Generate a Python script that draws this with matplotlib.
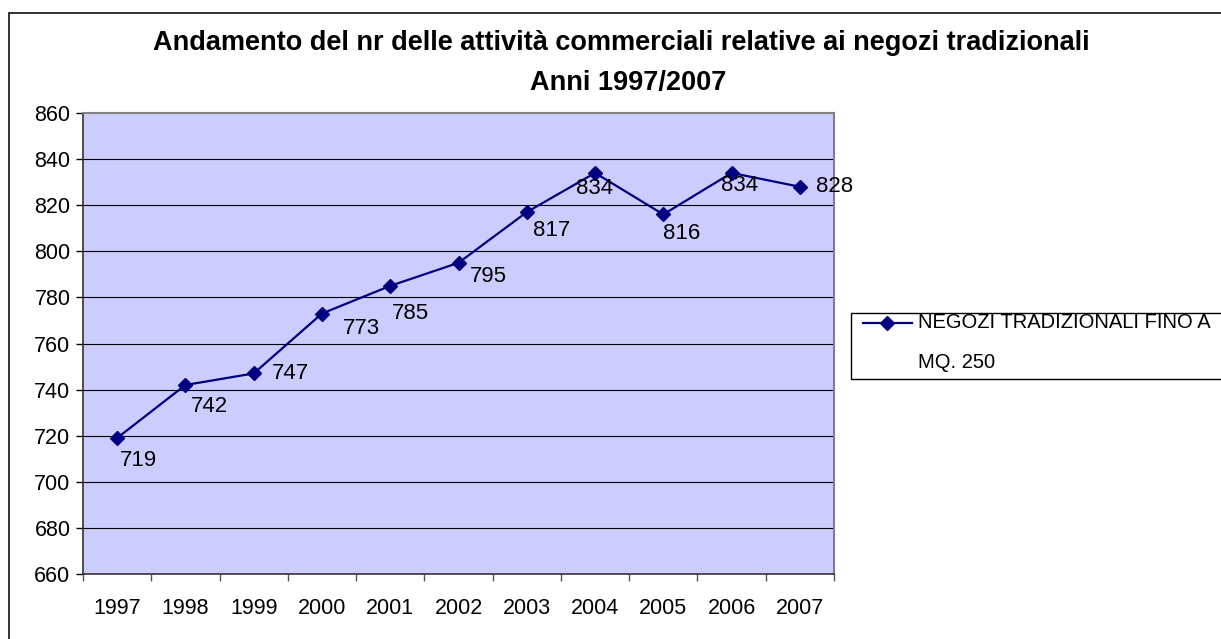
import numpy as np
import matplotlib
matplotlib.use("Agg")
import matplotlib.pyplot as plt
from matplotlib.patches import Rectangle
from matplotlib.lines import Line2D

anni = ["1997", "1998", "1999", "2000", "2001", "2002", "2003", "2004", "2005", "2006", "2007"]
negozi = [719, 742, 747, 773, 785, 795, 817, 834, 816, 834, 828]
serie = ["NEGOZI TRADIZIONALI FINO A", "MQ. 250"]

# label offsets in pixels (dx, dy down) and alignment, as placed in the original
offs = [(3, 22, "left"), (5, 22, "left"), (18, 0, "left"), (21, 15, "left"),
        (2, 28, "left"), (11, 14, "left"), (6, 18, "left"), (0, 16, "center"),
        (0, 19, "left"), (8, 13, "center"), (16, 0, "left")]

plt.rcParams["font.family"] = ["Liberation Sans", "DejaVu Sans"]

W, H = 1221, 639
fig = plt.figure(figsize=(W / 100, H / 100), dpi=100)
fig.patch.set_facecolor("white")

# outer chart frame (runs off the right and bottom edges)
fig.patches.append(Rectangle((9 / W, -0.1), 1.2, (H - 13) / H + 0.1,
                             transform=fig.transFigure, fill=False,
                             edgecolor="#222222", linewidth=1.3, clip_on=False))

ax = fig.add_axes([83 / W, (H - 574) / H, (834 - 83) / W, (574 - 113) / H])
ax.set_facecolor("#CCCCFF")

x = np.arange(len(anni))
ax.plot(x, negozi, color="#000080", lw=1.6, marker="D", markersize=7.5, zorder=3)

for xi, v, (dx, dy, ha) in zip(x, negozi, offs):
    ax.annotate(str(v), (xi, v), xytext=(dx, -dy), textcoords="offset pixels",
                ha=ha, va="center", fontsize=16, color="black", zorder=4)

ax.set_xlim(-0.5, len(anni) - 0.5)
ax.set_ylim(660, 860)
ax.set_yticks(np.arange(660, 861, 20))
ax.tick_params(axis="y", labelsize=15.5, length=5, width=1, direction="out", pad=4)
ax.set_xticks(x)
ax.set_xticklabels(anni)
ax.tick_params(axis="x", which="major", length=0, labelsize=15.5, pad=17)
ax.set_xticks(np.arange(-0.5, len(anni), 1), minor=True)
ax.tick_params(axis="x", which="minor", length=5, width=1, color="#555555")

for yv in np.arange(680, 860, 20):
    ax.axhline(yv, color="black", lw=0.8, zorder=1)

ax.spines["top"].set_color("#808080")
ax.spines["right"].set_color("#808080")
ax.spines["top"].set_linewidth(1.5)
ax.spines["right"].set_linewidth(1.5)
ax.spines["left"].set_color("#333333")
ax.spines["bottom"].set_color("#333333")
ax.spines["left"].set_linewidth(1.2)
ax.spines["bottom"].set_linewidth(1.2)

fig.text(621 / W, 1 - 43 / H, "Andamento del nr delle attività commerciali relative ai negozi tradizionali",
         ha="center", va="center", fontsize=19.5, fontweight="bold")
fig.text(628 / W, 1 - 83 / H, "Anni 1997/2007", ha="center", va="center",
         fontsize=19.5, fontweight="bold")

# legend box, drawn like the spreadsheet one (handle on the first text line)
fig.patches.append(Rectangle((851 / W, 1 - 379 / H), 0.5, 66 / H,
                             transform=fig.transFigure, facecolor="white",
                             edgecolor="black", linewidth=1, clip_on=False))
fig.lines.append(Line2D([863 / W, 912 / W], [1 - 323 / H] * 2, transform=fig.transFigure,
                        color="#000080", lw=1.6))
fig.lines.append(Line2D([887 / W], [1 - 323 / H], transform=fig.transFigure,
                        color="#000080", marker="D", markersize=7.5))
fig.text(918 / W, 1 - 323 / H, serie[0], ha="left", va="center", fontsize=14.5)
fig.text(918 / W, 1 - 362 / H, serie[1], ha="left", va="center", fontsize=14.5)

fig.savefig("out.png", dpi=100)
